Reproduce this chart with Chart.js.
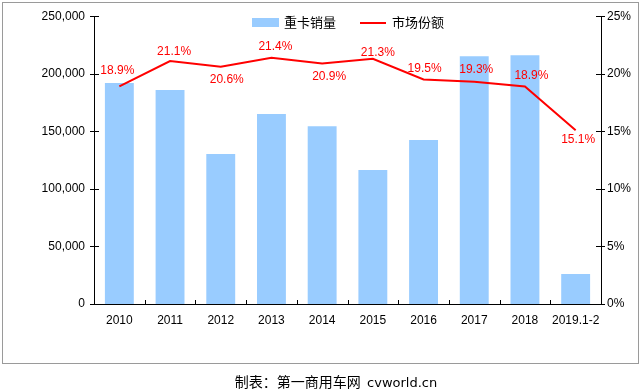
<!DOCTYPE html>
<html>
<head>
<meta charset="utf-8">
<script src="https://cdn.jsdelivr.net/npm/chart.js@4"></script>
<style>
  html, body { margin:0; padding:0; background:#fff; }
  body { width:640px; height:390px; position:relative; overflow:hidden; font-family:"Liberation Sans", Arial, sans-serif; }
  #frame { position:absolute; left:2px; top:2px; width:637px; height:362px; border:1px solid #9a9a9a; box-sizing:border-box; pointer-events:none; }
  #wrap { position:absolute; left:0; top:0; width:640px; height:366px; }
  #legend { position:absolute; top:13px; left:252px; height:18px; font-size:13px; color:#000; font-family:"Noto Sans CJK SC", sans-serif; white-space:nowrap; }
  #legend span { position:absolute; top:0; line-height:18px; }
  #footer { position:absolute; top:370px; left:0; width:672px; text-align:center; font-size:14px; line-height:22px; color:#000; font-family:"Noto Sans CJK SC", sans-serif; white-space:pre; }
</style>
</head>
<body>
<div id="wrap"><canvas id="c" width="640" height="366"></canvas></div>
<div id="frame"></div>
<div id="legend">
  <span style="left:0;top:5px;width:27px;height:9px;background:#99CCFF;"></span>
  <span style="left:32px;">重卡销量</span>
  <span style="left:108px;top:9px;width:26px;height:2px;background:#FF0000;"></span>
  <span style="left:140px;">市场份额</span>
</div>
<div id="footer">制表：第一商用车网  <span style="font-family:'DejaVu Sans',sans-serif;font-size:13px;">cvworld.cn</span></div>
<script>
const categories = ['2010','2011','2012','2013','2014','2015','2016','2017','2018','2019.1-2'];
const salesValues = [192000, 186000, 130200, 165000, 154500, 116300, 142400, 215300, 216100, 26000];
const shareValues = [18.9, 21.1, 20.6, 21.4, 20.9, 21.3, 19.5, 19.3, 18.9, 15.1];
const leftTicks = [0, 50000, 100000, 150000, 200000, 250000];
const rightTicks = [0, 5, 10, 15, 20, 25];

// label offsets (style only): [dx, dy] relative to the point
const labelOffsets = [[-2,-15.5],[4,-9],[6,12.5],[4,-11],[7,13.5],[5,-6.5],[1,-11],[2,-12.5],[6.5,-10.5],[2.5,9.5]];

const tickPlugin = {
  id: 'customTicks',
  afterDatasetsDraw(chart) {
    const ctx = chart.ctx;
    const x = chart.scales.x, yl = chart.scales.y, yr = chart.scales.y1;
    ctx.save();
    ctx.strokeStyle = '#000';
    ctx.lineWidth = 1;
    ctx.beginPath();
    leftTicks.forEach(v => {
      const py = Math.round(yl.getPixelForValue(v)) + 0.5;
      ctx.moveTo(yl.right - 4, py); ctx.lineTo(yl.right + 5, py);
    });
    rightTicks.forEach(v => {
      const py = Math.round(yr.getPixelForValue(v)) + 0.5;
      ctx.moveTo(yr.left - 5, py); ctx.lineTo(yr.left + 4, py);
    });
    const n = categories.length;
    const w = (x.right - x.left) / n;
    for (let i = 1; i < n; i++) {
      const px = Math.round(x.left + w * i) + 0.5;
      ctx.moveTo(px, x.top); ctx.lineTo(px, x.top - 4);
    }
    ctx.stroke();

    // data labels
    const meta = chart.getDatasetMeta(1);
    ctx.fillStyle = '#FF0000';
    ctx.font = '12px "Liberation Sans", Arial, sans-serif';
    ctx.textAlign = 'center';
    ctx.textBaseline = 'middle';
    meta.data.forEach((pt, i) => {
      const o = labelOffsets[i];
      ctx.fillText(shareValues[i].toFixed(1) + '%', pt.x + o[0], pt.y + o[1]);
    });
    ctx.restore();
  }
};

new Chart(document.getElementById('c'), {
  data: {
    labels: categories,
    datasets: [
      { type:'bar', label:'重卡销量', data: salesValues, backgroundColor:'#99CCFF', yAxisID:'y', barPercentage:0.57, categoryPercentage:1, order:2 },
      { type:'line', label:'市场份额', data: shareValues, borderColor:'#FF0000', borderWidth:2, pointRadius:0, tension:0, yAxisID:'y1', order:1 }
    ]
  },
  options: {
    responsive:false,
    animation:false,
    events:[],
    layout:{ padding:{ top:16, bottom:0, left:0, right:0 } },
    plugins:{ legend:{ display:false }, tooltip:{ enabled:false } },
    scales:{
      x:{
        offset:true,
        grid:{ display:false, drawTicks:false },
        border:{ display:true, color:'#000', width:1 },
        ticks:{ color:'#000', font:{ family:'"Liberation Sans", Arial, sans-serif', size:12 }, padding:9, maxRotation:0, autoSkip:false },
        afterFit(s){ s.height = 62; }
      },
      y:{
        position:'left', min:0, max:250000,
        afterBuildTicks(s){ s.ticks = leftTicks.map(v => ({ value:v })); },
        grid:{ display:false, drawTicks:false },
        border:{ display:true, color:'#000', width:1 },
        ticks:{ color:'#000', font:{ family:'"Liberation Sans", Arial, sans-serif', size:12 }, padding:9,
          callback:(v) => v.toLocaleString('en-US') },
        afterFit(s){ s.width = 94; }
      },
      y1:{
        position:'right', min:0, max:25,
        afterBuildTicks(s){ s.ticks = rightTicks.map(v => ({ value:v })); },
        grid:{ display:false, drawTicks:false },
        border:{ display:true, color:'#000', width:1 },
        ticks:{ color:'#000', font:{ family:'"Liberation Sans", Arial, sans-serif', size:12 }, padding:6,
          callback:(v) => v + '%' },
        afterFit(s){ s.width = 39; }
      }
    }
  },
  plugins:[tickPlugin]
});
</script>
</body>
</html>
